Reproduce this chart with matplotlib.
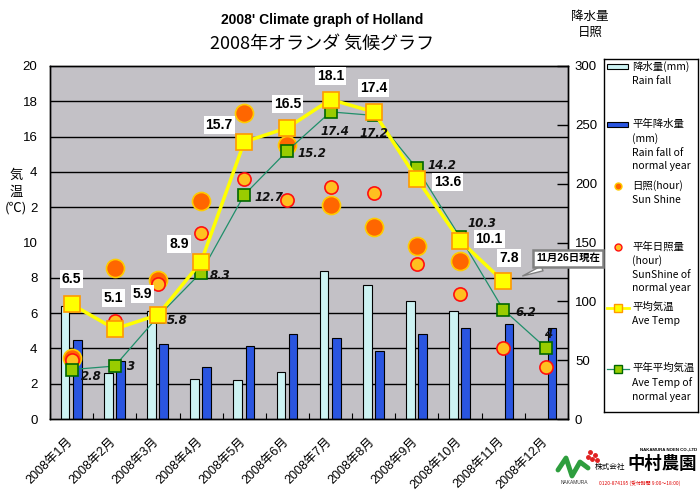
import numpy as np
import matplotlib
matplotlib.use('Agg')
import matplotlib.pyplot as plt
import matplotlib.transforms as mtransforms
from matplotlib.patches import Rectangle
from matplotlib.lines import Line2D

plt.rcParams['font.family'] = ['Liberation Sans', 'Noto Sans CJK JP', 'DejaVu Sans']

# ---------------- data ----------------
months = ['2008年1月', '2008年2月', '2008年3月', '2008年4月', '2008年5月', '2008年6月',
          '2008年7月', '2008年8月', '2008年9月', '2008年10月', '2008年11月', '2008年12月']
rain = [96, 39, 92, 34, 33, 40, 126, 114, 100, 92, np.nan, np.nan]
rain_normal = [67, 49, 64, 44, 62, 72, 69, 58, 72, 77, 80.5, 77]
sun = [52, 128, 118, 185, 260, 233, 182, 163.5, 147, 134, np.nan, np.nan]
sun_normal = [50, 83, 114.5, 158, 204, 186, 197, 192, 132, 106, 60.6, 44.5]
temp = [6.5, 5.1, 5.9, 8.9, 15.7, 16.5, 18.1, 17.4, 13.6, 10.1, 7.8, np.nan]
temp_normal = [2.8, 3, 5.8, 8.3, 12.7, 15.2, 17.4, 17.2, 14.2, 10.3, 6.2, 4]
left_ticks = [0, 2, 4, 6, 8, 10, 12, 14, 16, 18, 20]
left_tick_labels = ['0', '2', '4', '6', '8', '10', '2', '4', '16', '18', '20']
right_ticks = [0, 50, 100, 150, 200, 250, 300]
temp_label_offsets = [(0, 13), (-1, 17), (-11, 10), (-16, 8), (-18, 7), (0, 12),
                      (0, 12), (0, 12), (22, -7), (21, -4), (4, 12), (0, 0)]
normal_label_offsets = [(14, -5), (12, 0), (14, -3), (14, -2), (18, -2), (18, -2),
                        (3, -14), (0, -13), (18, 2), (16, 10), (16, -2), (1, 10)]

W, H = 700, 493
fig = plt.figure(figsize=(W / 100, H / 100), dpi=100)

def fx(px):
    return px / W

def fy(py):
    return 1 - py / H

L, R, T, B = 50, 568, 66, 419
ax = fig.add_axes([fx(L), fy(B), (R - L) / W, (B - T) / H])
ax2 = ax.twinx()
ax.set_zorder(ax2.get_zorder() + 1)
ax.patch.set_visible(False)
ax2.patch.set_visible(True)
ax2.patch.set_facecolor('#C3C1C6')

x = np.arange(len(months))

# ---- back axis: rain bars, sunshine dots, grid ----
ax2.set_ylim(0, 300)
ax2.set_yticks(right_ticks)
ax2.set_yticks(np.arange(0, 301, 30), minor=True)
ax2.grid(which='minor', axis='y', color='black', linewidth=1.0, zorder=0)
ax2.set_axisbelow(True)
ax2.tick_params(axis='y', which='major', direction='in', length=8, width=1, pad=5, labelsize=9.5)
ax2.tick_params(axis='y', which='minor', length=0)
bw = 0.2
ax2.bar(x - 0.15, rain, width=bw, color='#CDF3F3', edgecolor='black', linewidth=0.8, zorder=2)
ax2.bar(x + 0.13, rain_normal, width=bw, color='#2A55E0', edgecolor='black', linewidth=0.8, zorder=2)
ax2.plot(x, sun, linestyle='none', marker='o', markersize=13, markerfacecolor='#FF6600',
         markeredgecolor='#FFCC00', markeredgewidth=1.2, zorder=3)
ax2.plot(x, sun_normal, linestyle='none', marker='o', markersize=9.5, markerfacecolor='#FFC020',
         markeredgecolor='#FF1010', markeredgewidth=1.2, zorder=4)

# ---- front axis: temperatures ----
ax.set_xlim(-0.5, len(months) - 0.5)
ax.set_ylim(0, 20)
ax.set_yticks(left_ticks)
ax.set_yticklabels(left_tick_labels)
ax.tick_params(axis='y', length=0, pad=9, labelsize=9.5)
ax.plot(x, temp_normal, color='#1F8F6A', linewidth=0.9, marker='s', markersize=9,
        markerfacecolor='#99CC00', markeredgecolor='#006600', markeredgewidth=1.2, zorder=5)
ax.plot(x, temp, color='#FFFF00', linewidth=2.5, marker='s', markersize=11,
        markerfacecolor='#FFFF00', markeredgecolor='#FF9900', markeredgewidth=1.2, zorder=6)

for i, v in enumerate(temp):
    if np.isnan(v):
        continue
    dx, dy = temp_label_offsets[i]
    ax.annotate(f'{v:g}', (x[i], v), xytext=(dx, dy), textcoords='offset points',
                ha='center', va='bottom', fontsize=10, fontweight='bold', color='black',
                bbox=dict(boxstyle='square,pad=0.15', fc='white', ec='none'), zorder=8)
for i, v in enumerate(temp_normal):
    dx, dy = normal_label_offsets[i]
    ax.annotate(f'{v:g}', (x[i], v), xytext=(dx, dy), textcoords='offset points',
                ha='center', va='center', fontsize=8.5, fontweight='bold', fontstyle='italic',
                family='DejaVu Sans', color='#111111', zorder=8)

ax.set_xticks(x)
ax.set_xticklabels(months, rotation=45, ha='right', va='top', rotation_mode='anchor', fontsize=9)
ax.tick_params(axis='x', length=0, pad=12)
shift = mtransforms.ScaledTranslation(-5 / 100, 0, fig.dpi_scale_trans)
for lab in ax.get_xticklabels():
    lab.set_transform(lab.get_transform() + shift)
ax.set_xticks(np.arange(-0.5, len(months)), minor=True)
ax.tick_params(axis='x', which='minor', direction='in', length=4, width=0.8)
for a in (ax, ax2):
    for s in a.spines.values():
        s.set_color('black')
        s.set_linewidth(1)
ax2.tick_params(axis='x', length=0)

# callout
ax.annotate('11月26日現在', xy=(10.39, 8.05), xytext=(11.5, 9.1), textcoords='data',
            ha='center', va='center', fontsize=7.5, fontweight='bold',
            bbox=dict(boxstyle='square,pad=0.3', fc='white', ec='#808080', lw=1.8),
            arrowprops=dict(arrowstyle='wedge,tail_width=0.5,shrink_factor=0.5',
                            fc='white', ec='#808080', lw=1),
            annotation_clip=False, zorder=10)

# titles
fig.text(fx(322), fy(20), "2008' Climate graph of Holland", ha='center', va='center',
         fontsize=10, fontweight='bold')
fig.text(fx(322), fy(44), '2008年オランダ 気候グラフ', ha='center', va='center',
         fontsize=13, family=['Noto Sans CJK JP', 'DejaVu Sans'])
fig.text(fx(590), fy(24), '降水量\n日照', ha='center', va='center', fontsize=9,
         linespacing=1.3, family=['Noto Sans CJK JP', 'DejaVu Sans'])
fig.text(fx(16), fy(192), '気\n温\n(℃)', ha='center', va='center', fontsize=9.5,
         linespacing=1.35, family=['Noto Sans CJK JP', 'DejaVu Sans'])

# legend (pixel coordinates inside its own box)
lx0, lx1, ly0, ly1 = 604, 698, 59, 412
leg = fig.add_axes([fx(lx0), fy(ly1), (lx1 - lx0) / W, (ly1 - ly0) / H])
leg.set_xlim(lx0, lx1)
leg.set_ylim(ly1, ly0)
leg.set_xticks([])
leg.set_yticks([])
for s in leg.spines.values():
    s.set_color('black')
    s.set_linewidth(1)
leg.add_patch(Rectangle((607, 64), 21, 5, fc='#CDF3F3', ec='black', lw=0.8))
leg.add_patch(Rectangle((607, 122), 21, 5, fc='#2A55E0', ec='black', lw=0.8))
leg.plot([618], [186], marker='o', markersize=5, mfc='#FF6600', mec='#FFCC00', mew=1)
leg.plot([618], [247], marker='o', markersize=5, mfc='#FFC020', mec='#FF1010', mew=1)
leg.plot([607, 629], [308, 308], color='#FFFF00', lw=2)
leg.plot([618], [308], marker='s', markersize=6, mfc='#FFFF00', mec='#FF9900', mew=1)
leg.plot([607, 629], [369, 369], color='#1F8F6A', lw=0.9)
leg.plot([618], [369], marker='s', markersize=6, mfc='#99CC00', mec='#006600', mew=1)
legend_texts = [
    (67, '降水量(mm)\nRain fall'),
    (125, '平年降水量\n(mm)\nRain fall of\nnormal year'),
    (186, '日照(hour)\nSun Shine'),
    (247, '平年日照量\n(hour)\nSunShine of\nnormal year'),
    (308, '平均気温\nAve Temp'),
    (369, '平年平均気温\nAve Temp of\nnormal year'),
]
for yy, t in legend_texts:
    leg.text(632, yy - 6, t, ha='left', va='top', fontsize=7.5, linespacing=1.45,
             family=['Noto Sans CJK JP', 'DejaVu Sans'])

# company logo (text approximation)
fig.text(fx(669), fy(449), 'NAKAMURA NOEN CO.,LTD', ha='center', va='center', fontsize=3.2,
         fontweight='bold')
fig.text(fx(610), fy(467), '株式会社', ha='center', va='center', fontsize=5.5,
         family=['Noto Sans CJK JP'])
fig.text(fx(662), fy(464), '中村農園', ha='center', va='center', fontsize=12.5, fontweight='bold',
         family=['Noto Sans CJK JP'])
fig.text(fx(574), fy(483), 'NAKAMURA', ha='center', va='center', fontsize=3.5, color='#333333')
fig.text(fx(640), fy(483), '0120-874195 (受付時間 9:00〜18:00)', ha='center', va='center',
         fontsize=3.5, color='#E00000', family=['Noto Sans CJK JP', 'DejaVu Sans'])
fig.add_artist(Line2D([fx(558), fx(566), fx(572), fx(580), fx(588)],
                      [fy(470), fy(458), fy(476), fy(462), fy(468)],
                      color='#2E9E3E', lw=3.5, solid_capstyle='round'))
for px, py in [(590, 452), (595, 455), (592, 459), (597, 460), (588, 457)]:
    fig.add_artist(Line2D([fx(px)], [fy(py)], marker='o', markersize=2.5, color='#E02020'))

fig.savefig('out.png', dpi=100)
